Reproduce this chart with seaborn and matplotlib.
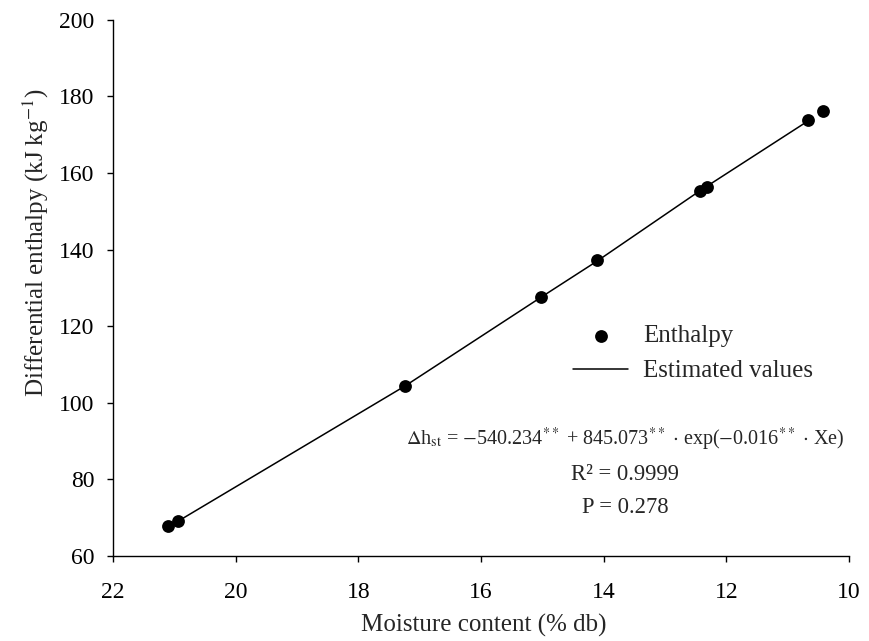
import numpy as np
import pandas as pd
import matplotlib
matplotlib.use("Agg")
import matplotlib.pyplot as plt
import seaborn as sns

# observed enthalpy points
moisture = [21.10, 20.94, 17.24, 15.02, 14.11, 12.43, 12.32, 10.67, 10.43]
enthalpy = [67.8, 69.1, 104.4, 127.6, 137.2, 155.3, 156.4, 173.9, 176.2]

# estimated values (fitted curve)
est_moisture = [20.94, 17.24, 15.02, 14.11, 12.43, 10.67]
est_enthalpy = [69.1, 104.4, 127.6, 137.0, 155.4, 173.6]

x_ticks = [22, 20, 18, 16, 14, 12, 10]
y_ticks = [60, 80, 100, 120, 140, 160, 180, 200]

sns.set_style("ticks")
plt.rcParams['font.family'] = ['Liberation Serif', 'DejaVu Serif']
plt.rcParams['mathtext.fontset'] = 'stix'

pts = pd.DataFrame({'x': moisture, 'y': enthalpy})
est = pd.DataFrame({'x': est_moisture, 'y': est_enthalpy})

fig = plt.figure(figsize=(8.7, 6.41), dpi=100)
ax = fig.add_axes([0.13, 0.1326, 0.846, 0.8364])

sns.lineplot(data=est, x='x', y='y', color='black', linewidth=1.1, ax=ax,
             label='Estimated values', sort=False)
sns.scatterplot(data=pts, x='x', y='y', color='black', s=85, edgecolor='black',
                linewidth=0, ax=ax, label='Enthalpy', zorder=3)

ax.set_xlim(22, 10)
ax.set_ylim(60, 200)
ax.set_xticks(x_ticks)
ax.set_yticks(y_ticks)
ax.tick_params(direction='out', length=4.5, width=1, labelsize=17, colors='black')
ax.tick_params(axis='x', pad=14)
ax.tick_params(axis='y', pad=9)
for s in ['left', 'bottom']:
    ax.spines[s].set_linewidth(1)
    ax.spines[s].set_color('black')
sns.despine(ax=ax)

ax.set_xlabel('Moisture content (% db)', fontsize=18)
ax.set_ylabel('Differential enthalpy (kJ kg$^{-1}$)', fontsize=18)
ax.xaxis.set_label_coords(0.503, -0.108)
ax.yaxis.set_label_coords(-0.085, 0.585)

h, l = ax.get_legend_handles_labels()
order = [l.index('Enthalpy'), l.index('Estimated values')]
ax.legend([h[i] for i in order], [l[i] for i in order], loc='upper left',
          bbox_to_anchor=(0.625, 0.431), frameon=False, fontsize=18,
          borderpad=0, borderaxespad=0,
          handlelength=2.2, handletextpad=0.6, labelspacing=0.5)

ax.text(0.696, 0.218, r'$\Delta$h$_{\rm st}$ = $-$540.234$^{**}$ + 845.073$^{**}$ $\cdot$ exp($-$0.016$^{**}$ $\cdot$ Xe)',
        transform=ax.transAxes, ha='center', va='center', fontsize=14.5)
ax.text(0.696, 0.152, 'R² = 0.9999', transform=ax.transAxes, ha='center', va='center', fontsize=16.3)
ax.text(0.696, 0.091, 'P = 0.278', transform=ax.transAxes, ha='center', va='center', fontsize=16.3)

fig.savefig('out.png', dpi=100)
